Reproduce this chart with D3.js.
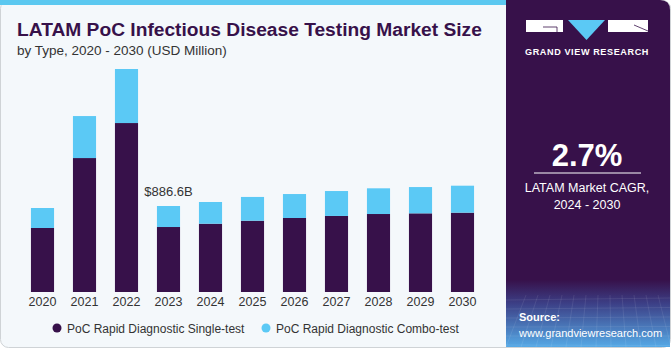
<!DOCTYPE html>
<html>
<head>
<meta charset="utf-8">
<script src="https://cdn.jsdelivr.net/npm/d3@7"></script>
<style>
body { margin: 0; background: #ffffff; }
text { font-family: "Liberation Sans", Arial, sans-serif; }
</style>
</head>
<body>
<div id="chart"></div>
<script>
var years = ["2020","2021","2022","2023","2024","2025","2026","2027","2028","2029","2030"];
var singleTest = [660, 1381, 1742, 670, 704, 735, 763, 784, 804, 811, 818];
var comboTest = [206, 433, 557, 216.6, 224, 245, 247, 257, 265, 271, 278];
var seriesNames = ["PoC Rapid Diagnostic Single-test", "PoC Rapid Diagnostic Combo-test"];
var colors = ["#37114a", "#5bc9f5"];

var W = 671, H = 350;
var svg = d3.select("#chart").append("svg")
    .attr("width", W)
    .attr("height", H);

var defs = svg.append("defs");
var grad2 = defs.append("linearGradient")
    .attr("id", "bottomgrad")
    .attr("x1", 0).attr("y1", 0).attr("x2", 0).attr("y2", 1);
grad2.append("stop").attr("offset", "0%").attr("stop-color", "#37114a");
grad2.append("stop").attr("offset", "35%").attr("stop-color", "#3c3f86");
grad2.append("stop").attr("offset", "100%").attr("stop-color", "#55a9e6");

// card
svg.append("rect")
    .attr("x", 0.5).attr("y", 0.5)
    .attr("width", W - 1).attr("height", H - 3)
    .attr("rx", 8)
    .attr("fill", "#f4f8fb")
    .attr("stroke", "#cfd3d6");
svg.append("rect")
    .attr("x", 0).attr("y", 0)
    .attr("width", 506).attr("height", 5)
    .attr("fill", "#5bc8f0");

// right panel
var px = 506;
svg.append("path")
    .attr("d", "M" + px + ",0 H" + (W - 11) + " Q" + (W - 1) + ",0 " + (W - 1) + ",10 V347 H" + px + " Z")
    .attr("fill", "#37114a");
svg.append("rect")
    .attr("x", px).attr("y", 280)
    .attr("width", W - 1 - px).attr("height", 67)
    .attr("fill", "url(#bottomgrad)");

// faint grid in the bottom of the panel
var grid = svg.append("g").attr("stroke", "#ffffff").attr("stroke-opacity", 0.12).attr("stroke-width", 0.7);
d3.range(0, 12).forEach(function(i) {
    grid.append("line")
        .attr("x1", px + i * 15).attr("y1", 347)
        .attr("x2", px + 20 + i * 12).attr("y2", 295);
});
d3.range(0, 6).forEach(function(i) {
    grid.append("line")
        .attr("x1", px).attr("y1", 300 + i * 9)
        .attr("x2", W - 1).attr("y2", 298 + i * 9.5);
});

// logo
var logo = svg.append("g");
logo.append("rect").attr("x", 526).attr("y", 20).attr("width", 37).attr("height", 12).attr("fill", "#ffffff");
logo.append("path").attr("d", "M543,27 H557 V32").attr("fill", "none").attr("stroke", "#37114a").attr("stroke-width", 0.8);
logo.append("path").attr("d", "M568,20 H605 L586.5,40 Z").attr("fill", "#5bc9f5");
logo.append("rect").attr("x", 608).attr("y", 20).attr("width", 40).attr("height", 12).attr("fill", "#ffffff");
logo.append("path").attr("d", "M634,25 L648,31").attr("stroke", "#37114a").attr("stroke-width", 0.8);
logo.append("text")
    .attr("x", 587).attr("y", 55)
    .attr("text-anchor", "middle")
    .attr("font-size", 9.1)
    .attr("font-weight", "bold")
    .attr("letter-spacing", 0.6)
    .attr("fill", "#ffffff")
    .text("GRAND VIEW RESEARCH");

svg.append("text")
    .attr("x", 587).attr("y", 166)
    .attr("text-anchor", "middle")
    .attr("font-size", 31)
    .attr("font-weight", "bold")
    .attr("fill", "#ffffff")
    .text("2.7%");
svg.append("line")
    .attr("x1", 534).attr("x2", 641)
    .attr("y1", 173).attr("y2", 173)
    .attr("stroke", "#ffffff").attr("stroke-width", 1);
svg.append("text")
    .attr("x", 587).attr("y", 192)
    .attr("text-anchor", "middle")
    .attr("font-size", 12.5)
    .attr("fill", "#ffffff")
    .text("LATAM Market CAGR,");
svg.append("text")
    .attr("x", 587).attr("y", 209)
    .attr("text-anchor", "middle")
    .attr("font-size", 12.5)
    .attr("fill", "#ffffff")
    .text("2024 - 2030");

svg.append("text")
    .attr("x", 519).attr("y", 321)
    .attr("font-size", 11)
    .attr("font-weight", "bold")
    .attr("fill", "#ffffff")
    .text("Source:");
svg.append("text")
    .attr("x", 519).attr("y", 337)
    .attr("font-size", 11)
    .attr("fill", "#ffffff")
    .text("www.grandviewresearch.com");

// titles
svg.append("text")
    .attr("x", 17).attr("y", 36)
    .attr("font-size", 19.2)
    .attr("font-weight", "bold")
    .attr("fill", "#37114a")
    .text("LATAM PoC Infectious Disease Testing Market Size");
svg.append("text")
    .attr("x", 17).attr("y", 55)
    .attr("font-size", 13.5)
    .attr("fill", "#333333")
    .text("by Type, 2020 - 2030 (USD Million)");

// chart
var x = d3.scaleBand()
    .domain(years)
    .range([21.5, 483.5])
    .paddingInner(0.45)
    .paddingOuter(0.225);

var y = d3.scaleLinear()
    .domain([0, 2500])
    .range([292, 292 - 2500 / 10.31]);

var table = years.map(function(yr, i) {
    return { year: yr, single: singleTest[i], combo: comboTest[i] };
});
var stacked = d3.stack().keys(["single", "combo"])(table);

svg.selectAll(".layer")
    .data(stacked)
    .enter().append("g")
    .attr("class", "layer")
    .attr("fill", function(d, i) { return colors[i]; })
    .selectAll("rect")
    .data(function(d) { return d; })
    .enter().append("rect")
    .attr("x", function(d) { return x(d.data.year); })
    .attr("y", function(d) { return y(d[1]); })
    .attr("width", x.bandwidth())
    .attr("height", function(d) { return y(d[0]) - y(d[1]); });

var xAxis = svg.append("g")
    .attr("transform", "translate(0,292)")
    .call(d3.axisBottom(x).tickSize(0).tickPadding(5));
xAxis.select(".domain").remove();
xAxis.selectAll("text")
    .attr("font-size", 12.5)
    .attr("font-family", "Liberation Sans, Arial, sans-serif")
    .attr("fill", "#333333");

svg.append("text")
    .attr("x", x("2023") + x.bandwidth() / 2)
    .attr("y", y(singleTest[3] + comboTest[3]) - 10)
    .attr("text-anchor", "middle")
    .attr("font-size", 13)
    .attr("fill", "#333333")
    .text("$886.6B");

// legend
var legendX = [57, 266];
var legend = svg.selectAll(".legend")
    .data(seriesNames)
    .enter().append("g")
    .attr("class", "legend")
    .attr("transform", function(d, i) { return "translate(" + legendX[i] + ",328)"; });
legend.append("circle")
    .attr("r", 4.5)
    .attr("cy", 0)
    .attr("fill", function(d, i) { return colors[i]; });
legend.append("text")
    .attr("x", 10)
    .attr("y", 4.5)
    .attr("font-size", 12)
    .attr("fill", "#333333")
    .text(function(d) { return d; });
</script>
</body>
</html>
